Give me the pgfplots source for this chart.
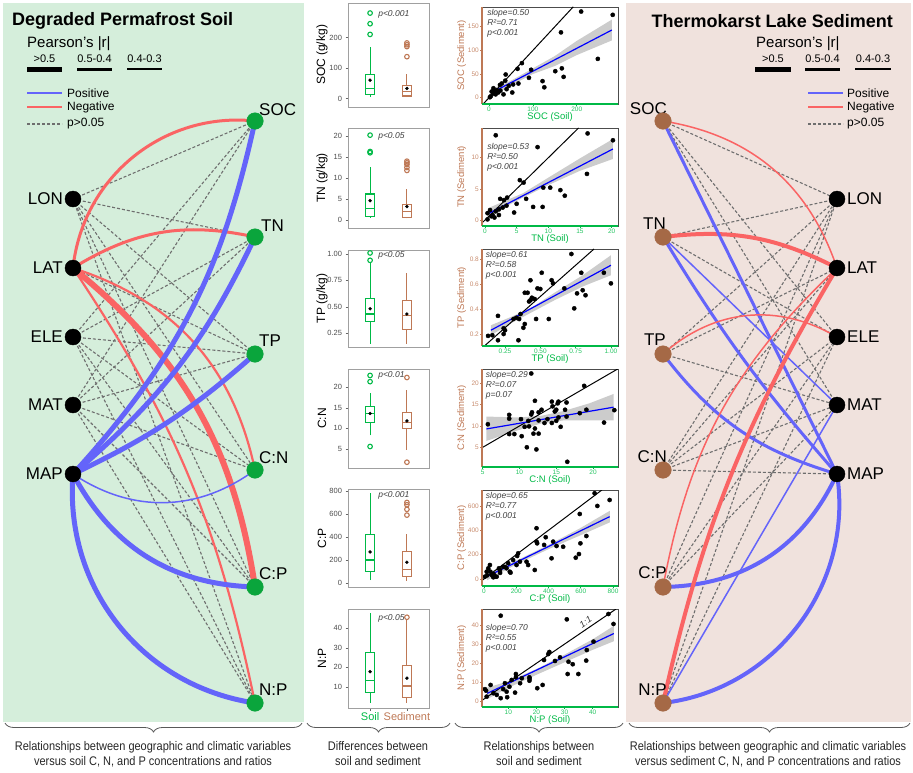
\documentclass[border=0pt]{standalone}
\usepackage{fontspec}
\setmainfont{Liberation Sans}
\newfontfamily\narrowfont[FakeStretch=0.88]{Liberation Sans}
\usepackage{pgfplots}
\pgfplotsset{compat=1.18}
\usetikzlibrary{decorations.pathreplacing}

\definecolor{bgG}{RGB}{213,238,219}
\definecolor{bgP}{RGB}{240,226,221}
\definecolor{eBlue}{RGB}{100,100,250}
\definecolor{eRed}{RGB}{250,100,100}
\definecolor{eGrey}{RGB}{110,110,110}
\definecolor{nGreen}{RGB}{10,165,60}
\definecolor{nBrown}{RGB}{165,105,70}
\definecolor{bxG}{RGB}{0,185,70}
\definecolor{bxB}{RGB}{190,120,85}
\definecolor{boxframe}{RGB}{160,160,160}

\tikzset{
  pval/.style={anchor=west, font=\itshape\fontsize{8.5}{9}\selectfont, text=black!75, inner sep=1pt},
  stats/.style={anchor=north west, align=left, font=\itshape\fontsize{8.5}{10}\selectfont, text=black!75, inner sep=1pt},
}
\pgfplotsset{
  boxax/.style={scale only axis, width=81pt, xmin=0.4, xmax=2.6, xtick=\empty,
    axis line style={draw=boxframe, line width=0.8pt}, tick pos=left, tick align=outside,
    major tick length=2.5pt, y tick style={draw=black!60},
    yticklabel style={font=\fontsize{7.5}{8}\selectfont, text=black!70},
    every axis y label/.style={at={(axis description cs:-0.32,0.5)}, rotate=90, anchor=center, font=\fontsize{12}{12}\selectfont},
    /pgf/number format/assume math mode=true, clip=false},
  outl/.style={only marks, mark=o, mark size=2.3pt, line width=1.1pt},
  meanpt/.style={only marks, mark=*, mark size=1.5pt, black},
  scax/.style={scale only axis, width=136pt, axis line style={draw=black!70, line width=0.9pt},
    tick pos=left, tick align=outside, major tick length=2pt,
    x tick style={draw=bxG, line width=0.6pt}, y tick style={draw=bxB, line width=0.6pt},
    xticklabel style={font=\fontsize{6.5}{7}\selectfont, text=bxG!85, inner sep=1pt},
    yticklabel style={font=\fontsize{6.5}{7}\selectfont, text=bxB!85, inner sep=1pt},
    every axis x label/.style={at={(axis description cs:0.5,-0.135)}, anchor=center, font=\fontsize{9.5}{10}\selectfont, text=bxG},
    every axis y label/.style={at={(axis description cs:-0.15,0.5)}, rotate=90, anchor=center, font=\fontsize{9.5}{10}\selectfont, text=bxB},
    /pgf/number format/assume math mode=true,
    extra description/.code={\draw[bxB, line width=1.3pt] (0,0)--(0,1); \draw[bxG, line width=1.3pt] (0,0)--(1,0);}},
  band/.style={fill=black!20, draw=none},
  oneone/.style={black, line width=1pt},
  pts/.style={only marks, mark=*, mark size=2.1pt, black},
  reg/.style={blue, line width=1.2pt},
}
% box: #1 left x, #2 centre x, #3 right x, #4 lower whisker, #5 Q1, #6 median, #7 Q3, #8 upper whisker, #9 colour
\newcommand{\mybox}[9]{%
  \addplot[#9, line width=1.1pt, line join=miter] coordinates {(#1,#5) (#3,#5) (#3,#7) (#1,#7) (#1,#5)};
  \addplot[#9, line width=1.1pt] coordinates {(#1,#6) (#3,#6)};
  \addplot[#9, line width=1.1pt] coordinates {(#2,#4) (#2,#5)};
  \addplot[#9, line width=1.1pt] coordinates {(#2,#7) (#2,#8)};
}

\begin{document}
\begin{tikzpicture}[x=1pt,y=1pt]
% ================= NETWORK PANELS =================
\begin{axis}[at={(0,0)}, anchor=south west, scale only axis, width=913pt, height=772pt,
  xmin=0, xmax=913, ymin=0, ymax=772, y dir=reverse, hide axis, clip=false]
\fill[bgG] (3,3) rectangle (304,722);
\fill[bgP] (626,3) rectangle (911,722);

% left nodes
\coordinate (lLON) at (73,199); \coordinate (lLAT) at (73,268); \coordinate (lELE) at (73,337);
\coordinate (lMAT) at (73,405); \coordinate (lMAP) at (73,474);
\coordinate (lSOC) at (255,121); \coordinate (lTN) at (255,237); \coordinate (lTP) at (255,354);
\coordinate (lCN) at (255,470); \coordinate (lCP) at (255,587); \coordinate (lNP) at (255,703);
% right nodes
\coordinate (rLON) at (837,199); \coordinate (rLAT) at (837,268); \coordinate (rELE) at (837,337);
\coordinate (rMAT) at (837,405); \coordinate (rMAP) at (837,474);
\coordinate (rSOC) at (663,121); \coordinate (rTN) at (663,237); \coordinate (rTP) at (663,354);
\coordinate (rCN) at (663,470); \coordinate (rCP) at (663,587); \coordinate (rNP) at (663,703);

% dashed (p>0.05), left
\begin{scope}[eGrey, line width=1.1pt, dash pattern=on 3pt off 2pt]
\draw (lLON)--(lSOC); \draw (lLON)--(lTN); \draw (lLON)--(lTP); \draw (lLON)--(lCN); \draw (lLON)--(lCP); \draw (lLON)--(lNP);
\draw (lLAT)--(lTP);
\draw (lELE)--(lSOC); \draw (lELE)--(lTN); \draw (lELE)--(lTP); \draw (lELE)--(lCN); \draw (lELE)--(lCP); \draw (lELE)--(lNP);
\draw (lMAT)--(lSOC); \draw (lMAT)--(lTN); \draw (lMAT)--(lTP); \draw (lMAT)--(lCN); \draw (lMAT)--(lCP); \draw (lMAT)--(lNP);
% right
\draw (rSOC)--(rLON); \draw (rSOC)--(rELE); \draw (rSOC)--(rMAT);
\draw (rTN)--(rLON); \draw (rTN)--(rELE);
\draw (rTP)--(rLON); \draw (rTP)--(rLAT); \draw (rTP)--(rMAT);
\draw (rCN)--(rLON); \draw (rCN)--(rLAT); \draw (rCN)--(rELE); \draw (rCN)--(rMAT); \draw (rCN)--(rMAP);
\draw (rCP)--(rLON); \draw (rCP)--(rELE); \draw (rCP)--(rMAT);
\draw (rNP)--(rLON); \draw (rNP)--(rELE);
\end{scope}

% significant edges, left
\draw[eRed, line width=3pt] (lLAT) to[bend left=45] (lSOC);
\draw[eRed, line width=3pt] (lLAT) to[bend left=22] (lTN);
\draw[eRed, line width=2.2pt] (lLAT) to[bend left=30] (lCN);
\draw[eRed, line width=6pt] (lLAT) to[bend left=21] (lCP);
\draw[eRed, line width=2.2pt] (lLAT) to[bend left=11] (lNP);
\draw[eBlue, line width=5pt] (lMAP) to[bend right=15] (lSOC);
\draw[eBlue, line width=5pt] (lMAP) to[bend right=12] (lTN);
\draw[eBlue, line width=5pt] (lMAP) to[bend right=8] (lTP);
\draw[eBlue, line width=1.5pt] (lMAP) to[bend right=35] (lCN);
\draw[eBlue, line width=5pt] (lMAP) to[bend right=30] (lCP);
\draw[eBlue, line width=5pt] (lMAP) to[bend right=43] (lNP);
% right
\draw[eRed, line width=1.5pt] (rSOC) to[bend left=31] (rLAT);
\draw[eRed, line width=4pt] (rTN) to[bend left=17] (rLAT);
\draw[eBlue, line width=3pt] (rSOC) -- (rMAP);
\draw[eBlue, line width=1.5pt] (rTN) -- (rMAT);
\draw[eBlue, line width=3pt] (rTN) to[bend right=5] (rMAP);
\draw[eRed, line width=1.5pt] (rTP) to[bend left=36] (rELE);
\draw[eBlue, line width=3pt] (rTP) to[bend right=18] (rMAP);
\draw[eBlue, line width=4pt] (rCP) to[bend right=32] (rMAP);
\draw[eBlue, line width=4pt] (rNP) to[bend right=46] (rMAP);
\draw[eRed, line width=4pt] (rNP) to[bend left=9] (rLAT);
\draw[eRed, line width=1.5pt] (rCP) to[bend left=18] (rLAT);
\draw[eBlue, line width=1.5pt] (rNP) -- (rMAT);

% nodes
\addplot[only marks, mark=*, mark size=8pt, black] coordinates {(73,199) (73,268) (73,337) (73,405) (73,474) (837,199) (837,268) (837,337) (837,405) (837,474)};
\addplot[only marks, mark=*, mark size=8.3pt, nGreen] coordinates {(255,121) (255,237) (255,354) (255,470) (255,587) (255,703)};
\addplot[only marks, mark=*, mark size=8.3pt, nBrown] coordinates {(663,121) (663,237) (663,354) (663,470) (663,587) (663,703)};

% node labels
\begin{scope}[every node/.style={font=\fontsize{17}{17}\selectfont, inner sep=0pt}]
\node[anchor=east] at (63,199) {LON}; \node[anchor=east] at (63,268) {LAT};
\node[anchor=east] at (63,337) {ELE}; \node[anchor=east] at (63,405) {MAT};
\node[anchor=east] at (63,474) {MAP};
\node[anchor=west] at (259,110) {SOC}; \node[anchor=west] at (261,226) {TN};
\node[anchor=west] at (259,341) {TP}; \node[anchor=west] at (259,458) {C:N};
\node[anchor=west] at (259,574) {C:P}; \node[anchor=west] at (259,690) {N:P};
\node[anchor=west] at (847,199) {LON}; \node[anchor=west] at (847,268) {LAT};
\node[anchor=west] at (847,337) {ELE}; \node[anchor=west] at (847,405) {MAT};
\node[anchor=west] at (847,474) {MAP};
\node[anchor=east] at (667,109) {SOC}; \node[anchor=east] at (666,224) {TN};
\node[anchor=east] at (666,340) {TP}; \node[anchor=east] at (667,457) {C:N};
\node[anchor=east] at (667,573) {C:P}; \node[anchor=east] at (667,690) {N:P};
\end{scope}

% titles
\node[anchor=west, font=\bfseries\fontsize{18}{18}\selectfont, inner sep=0pt] at (12,21) {Degraded Permafrost Soil};
\node[anchor=east, font=\bfseries\fontsize{18}{18}\selectfont, inner sep=0pt] at (893,21) {Thermokarst Lake Sediment};

% legends
\node[anchor=west, font=\fontsize{15}{15}\selectfont, inner sep=0pt] at (27,44) {Pearson's |r|};
\node[anchor=west, font=\fontsize{15}{15}\selectfont, inner sep=0pt] at (756,44) {Pearson's |r|};
\begin{scope}[every node/.style={font=\fontsize{11}{11}\selectfont, inner sep=0pt}]
\draw[line width=5pt] (27,69)--(62,69); \node at (44.5,59) {>0.5};
\draw[line width=3pt] (77,69)--(112,69); \node at (94.5,59) {0.5-0.4};
\draw[line width=2pt] (127,69)--(162,69); \node at (144.5,59) {0.4-0.3};
\draw[line width=5pt] (755,69)--(791,69); \node at (773,59) {>0.5};
\draw[line width=3pt] (805,69)--(840,69); \node at (822.5,59) {0.5-0.4};
\draw[line width=2pt] (855,69)--(891,69); \node at (873,59) {0.4-0.3};
\end{scope}
\begin{scope}[every node/.style={font=\fontsize{12}{12}\selectfont, inner sep=0pt, anchor=west}]
\draw[eBlue, line width=2.5pt] (27,93)--(62,93); \node at (67,93) {Positive};
\draw[eRed, line width=2.5pt] (27,107)--(62,107); \node at (67,107) {Negative};
\draw[eGrey, line width=1.1pt, dash pattern=on 3pt off 2pt] (27,124)--(62,124); \node at (67,124) {p>0.05};
\draw[eBlue, line width=2.5pt] (808,93)--(843,93); \node at (847,93) {Positive};
\draw[eRed, line width=2.5pt] (808,107)--(843,107); \node at (847,107) {Negative};
\draw[eGrey, line width=1.1pt, dash pattern=on 3pt off 2pt] (808,124)--(843,124); \node at (847,124) {p>0.05};
\end{scope}

% braces and captions
\begin{scope}[black!65, line width=0.8pt, decoration={brace, mirror, amplitude=9pt}]
\draw[decorate] (5,723) -- (302,723);
\draw[decorate] (307,723) -- (450,723);
\draw[decorate] (455,723) -- (623,723);
\draw[decorate] (629,723) -- (910,723);
\end{scope}
\begin{scope}[every node/.style={align=center, anchor=north, font=\narrowfont\fontsize{12.5}{15}\selectfont, text=black!85, inner sep=0pt}]
\node at (153,741) {Relationships between geographic and climatic variables\\versus soil C, N, and P concentrations and ratios};
\node at (378,741) {Differences between\\soil and sediment};
\node at (539,741) {Relationships between\\soil and sediment};
\node at (768,741) {Relationships between geographic and climatic variables\\versus sediment C, N, and P concentrations and ratios};
\end{scope}
\end{axis}

% ================= BOXPLOTS =================
% SOC
\begin{axis}[boxax, at={(348pt,665pt)}, anchor=south west, height=104pt, ymin=-28, ymax=313, ytick={0,100,200}, ylabel={SOC (g/kg)}]
\mybox{0.875}{1}{1.125}{5}{13}{32}{80}{170}{bxG}
\mybox{1.875}{2}{2.125}{4}{8}{22}{42}{80}{bxB}
\addplot[outl, bxG] coordinates {(1,210) (1,245) (1,280)};
\addplot[outl, bxB] coordinates {(2,137) (2,170) (2,176) (2,182)};
\addplot[meanpt] coordinates {(1,60) (2,33)};
\node[pval] at (axis cs:1.19,277) {p<0.001};
\end{axis}
% TN
\begin{axis}[boxax, at={(348pt,544pt)}, anchor=south west, height=100pt, ymin=-1.9, ymax=21.9, ytick={0,5,10,15,20}, ylabel={TN (g/kg)}]
\mybox{0.875}{1}{1.125}{0.5}{0.9}{2.8}{6.2}{12.5}{bxG}
\mybox{1.875}{2}{2.125}{0.4}{0.6}{2.0}{3.6}{7.3}{bxB}
\addplot[outl, bxG] coordinates {(1,16.0) (1,16.3) (1,20.2)};
\addplot[outl, bxB] coordinates {(2,11.8) (2,12.5) (2,13.2) (2,13.6) (2,14.0)};
\addplot[meanpt] coordinates {(1,4.6) (2,3.2)};
\node[pval] at (axis cs:1.19,20) {p<0.05};
\end{axis}
% TP
\begin{axis}[boxax, at={(348pt,425pt)}, anchor=south west, height=97pt, ymin=0.117, ymax=1.038, ytick={0.25,0.5,0.75,1}, yticklabels={0.25,0.50,0.75,1.00}, ylabel={TP (g/kg)}]
\mybox{0.875}{1}{1.125}{0.15}{0.36}{0.43}{0.58}{0.92}{bxG}
\mybox{1.875}{2}{2.125}{0.15}{0.28}{0.42}{0.56}{0.82}{bxB}
\addplot[outl, bxG] coordinates {(1,0.94) (1,1.01)};
\addplot[meanpt] coordinates {(1,0.48) (2,0.43)};
\node[pval] at (axis cs:1.19,0.99) {p<0.05};
\end{axis}
% C:N
\begin{axis}[boxax, at={(348pt,304pt)}, anchor=south west, height=99pt, ymin=0.4, ymax=24.36, ytick={5,10,15,20}, ylabel={C:N}]
\mybox{0.875}{1}{1.125}{8.3}{11.5}{13.6}{15.3}{18.5}{bxG}
\mybox{1.875}{2}{2.125}{4.8}{10}{11.5}{13.8}{19.3}{bxB}
\addplot[outl, bxG] coordinates {(1,5.6) (1,21.3) (1,22.8)};
\addplot[outl, bxB] coordinates {(2,1.8) (2,22.3)};
\addplot[meanpt] coordinates {(1,13.6) (2,11.8)};
\node[pval] at (axis cs:1.19,22.7) {p<0.01};
\end{axis}
% C:P
\begin{axis}[boxax, at={(348pt,185pt)}, anchor=south west, height=98pt, ymin=-35, ymax=817, ytick={0,200,400,600,800}, ylabel={C:P}]
\mybox{0.875}{1}{1.125}{25}{100}{200}{420}{780}{bxG}
\mybox{1.875}{2}{2.125}{20}{60}{120}{270}{430}{bxB}
\addplot[outl, bxB] coordinates {(2,590) (2,640) (2,680) (2,700)};
\addplot[meanpt] coordinates {(1,270) (2,180)};
\node[pval] at (axis cs:1.19,765) {p<0.001};
\end{axis}
% N:P
\begin{axis}[boxax, at={(348pt,64pt)}, anchor=south west, height=99pt, ymin=-0.7, ymax=49.7, ytick={10,20,30,40}, ylabel={N:P},
  xtick={1,2}, xticklabels={{\color{bxG}Soil},{\color{bxB}Sediment}}, xticklabel style={font=\fontsize{11}{11}\selectfont, inner sep=2pt}, x tick style={draw=black!60}]
\mybox{0.875}{1}{1.125}{2}{7}{13.5}{27.5}{47.5}{bxG}
\mybox{1.875}{2}{2.125}{2}{4.5}{10.5}{21}{44}{bxB}
\addplot[outl, bxB] coordinates {(2,45.5)};
\addplot[meanpt] coordinates {(1,17.8) (2,14.5)};
\node[pval] at (axis cs:1.19,45) {p<0.05};
\end{axis}

% ================= SCATTERS =================
% SOC
\begin{axis}[scax, at={(482pt,668pt)}, anchor=south west, height=97pt, xmin=-16, xmax=294, ymin=-13.3, ymax=191.6,
  xtick={0,100,200}, ytick={0,50,100,150}, xlabel={SOC (Soil)}, ylabel={SOC (Sediment)}]
\addplot[band] coordinates {(5,18) (50,36) (100,62) (150,88) (200,120) (280,165) (280,121) (200,90) (150,67) (100,50) (50,26) (5,2)} -- cycle;
\addplot[oneone] coordinates {(-13,-13) (192,192)};
\addplot[pts] table {
x y
210 182
282 175
164 138
248 82
75 73
65 61
38 49
91 42
96 59
151 56
166 62
170 44
122 35
126 22
53 11
33 7
37 36
25 27
29 30
67 30
10 20
6 13
18 16
21 11
15 7
4 3
10 9
40 18
26 15
2 1
12 14
45 25
55 28
};
\addplot[reg] coordinates {(5,10) (280,143)};
\node[stats] at (rel axis cs:0.03,0.99) {slope=0.50\\R²=0.71\\p<0.001};
\end{axis}
% TN
\begin{axis}[scax, at={(482pt,546pt)}, anchor=south west, height=98pt, xmin=-0.47, xmax=21.0, ymin=-0.96, ymax=14.77,
  xtick={0,5,10,15,20}, ytick={0,5,10}, xlabel={TN (Soil)}, ylabel={TN (Sediment)}]
\addplot[band] coordinates {(0.5,1.9) (3,3.0) (6,4.3) (10,6.8) (15,9.9) (20.2,13.0) (20.2,9.8) (15,7.9) (10,5.6) (6,3.6) (3,2.0) (0.5,0.2)} -- cycle;
\addplot[oneone] coordinates {(-0.96,-0.96) (14.77,14.77)};
\addplot[pts] table {
x y
1.7 13.6
16.2 13.9
20.2 12.8
8.3 11.7
16.1 7.4
5.5 6.4
6.1 6.0
9.2 5.2
10.3 5.2
11.9 4.8
12.6 3.9
7.6 2.1
9.1 2.1
2.4 3.4
3.0 3.2
3.5 3.6
5.0 2.6
6.5 3.4
4.6 1.2
2.2 0.8
0.8 1.6
0.4 1.1
1.0 0.6
1.5 0.4
0.4 0.1
1.7 1.4
2.8 2.0
3.4 2.3
2.2 1.7
1.2 0.8
};
\addplot[reg] coordinates {(0.5,1.0) (20.2,11.4)};
\node[stats] at (rel axis cs:0.03,0.86) {slope=0.53\\R²=0.50\\p<0.001};
\end{axis}
% TP
\begin{axis}[scax, at={(482pt,426pt)}, anchor=south west, height=97pt, xmin=0.087, xmax=1.05, ymin=0.104, ymax=0.88,
  xtick={0.25,0.5,0.75,1}, xticklabels={0.25,0.50,0.75,1.00}, ytick={0.2,0.4,0.6,0.8}, yticklabels={0.2,0.4,0.6,0.8}, xlabel={TP (Soil)}, ylabel={TP (Sediment)}]
\addplot[band] coordinates {(0.15,0.27) (0.3,0.34) (0.45,0.42) (0.6,0.53) (0.8,0.67) (1.0,0.83) (1.0,0.67) (0.8,0.58) (0.6,0.47) (0.45,0.38) (0.3,0.29) (0.15,0.19)} -- cycle;
\addplot[oneone] coordinates {(0.104,0.104) (0.88,0.88)};
\addplot[pts] table {
x y
0.72 0.84
1.00 0.605
0.95 0.69
0.79 0.69
0.51 0.69
0.43 0.63
0.58 0.63
0.59 0.605
0.67 0.565
0.39 0.53
0.41 0.53
0.48 0.565
0.50 0.56
0.44 0.49
0.42 0.46
0.76 0.525
0.80 0.55
0.82 0.51
0.74 0.405
0.47 0.32
0.56 0.32
0.36 0.36
0.35 0.32
0.38 0.25
0.39 0.28
0.33 0.33
0.20 0.345
0.24 0.245
0.25 0.23
0.24 0.20
0.20 0.15
0.13 0.185
0.16 0.19
0.345 0.15
0.43 0.47
0.46 0.48
0.31 0.32
};
\addplot[reg] coordinates {(0.15,0.23) (1.0,0.75)};
\node[stats] at (rel axis cs:0.02,0.99) {slope=0.61\\R²=0.58\\p<0.001};
\end{axis}
% C:N
\begin{axis}[scax, at={(482pt,305pt)}, anchor=south west, height=98pt, xmin=4.9, xmax=23.4, ymin=0.38, ymax=23.35,
  xtick={5,10,15,20}, ytick={5,10,15,20}, xlabel={C:N (Soil)}, ylabel={C:N (Sediment)}]
\addplot[band] coordinates {(5.5,12.2) (10,12.0) (13,12.4) (16,13.5) (19.5,15.3) (22.8,17.5) (22.8,11.3) (19.5,11.3) (16,11.3) (13,10.6) (10,9.1) (5.5,6.5)} -- cycle;
\addplot[oneone] coordinates {(4.9,4.9) (23.35,23.35)};
\addplot[pts] table {
x y
11.6 22.3
22.9 13.7
18.8 19.4
5.7 10.4
21.5 10.8
19.1 13.8
18.2 13.0
8.6 12.6
8.6 11.7
8.6 8.1
9.3 8.1
10.3 7.6
11.0 5.0
12.3 4.5
16.5 1.6
10.7 9.8
11.3 9.9
11.6 12.7
11.7 13.2
12.1 15.9
13.0 13.8
13.8 11.6
14.4 15.7
15.0 13.8
15.2 15.3
15.3 15.7
16.4 15.5
16.2 13.8
16.4 12.2
15.3 12.0
15.0 11.2
15.6 9.8
14.4 10.7
13.4 10.7
12.6 11.3
12.1 9.4
11.9 8.2
12.6 8.2
11.2 11.2
10.2 11.6
12.6 13.2
14.5 14.6
14.8 13.4
};
\addplot[reg] coordinates {(5.5,9.3) (22.8,14.4)};
\node[stats] at (rel axis cs:0.02,0.99) {slope=0.29\\R²=0.07\\p=0.07};
\end{axis}
% C:P
\begin{axis}[scax, at={(482pt,186pt)}, anchor=south west, height=96pt, xmin=-12, xmax=831, ymin=-57.5, ymax=731,
  xtick={0,200,400,600,800}, ytick={0,200,400,600}, xlabel={C:P (Soil)}, ylabel={C:P (Sediment)}]
\addplot[band] coordinates {(20,50) (200,150) (400,280) (600,420) (780,560) (780,465) (600,360) (400,245) (200,120) (20,-10)} -- cycle;
\addplot[oneone] coordinates {(-12,-12) (731,731)};
\addplot[pts] table {
x y
686 704
779 649
703 600
594 534
326 417
383 343
330 293
326 307
373 280
429 307
450 271
491 265
598 293
635 353
419 170
589 205
569 175
315 74
212 211
206 189
181 156
223 142
202 115
264 142
274 115
165 52
119 101
140 88
99 74
79 19
58 14
27 88
37 115
17 60
48 33
6 19
93 88
20 30
40 60
60 40
70 20
100 50
130 100
150 130
160 60
};
\addplot[reg] coordinates {(17,19) (779,512)};
\node[stats] at (rel axis cs:0.02,0.99) {slope=0.65\\R²=0.77\\p<0.001};
\end{axis}
% N:P
\begin{axis}[scax, at={(482pt,65pt)}, anchor=south west, height=98pt, xmin=0.65, xmax=49, ymin=-2.8, ymax=48.3,
  xtick={10,20,30,40}, ytick={0,10,20,30,40}, xlabel={N:P (Soil)}, ylabel={N:P (Sediment)}]
\addplot[band] coordinates {(2.5,7.3) (10,10.6) (20,17.0) (30,24.5) (40,32.5) (47.5,39.5) (47.5,31.5) (40,27.0) (30,20.5) (20,14.0) (10,7.2) (2.5,1.3)} -- cycle;
\addplot[oneone] coordinates {(0.65,0.65) (48.3,48.3)};
\addplot[pts] table {
x y
7.3 44.8
30.8 42.9
45.6 45.7
47.4 40.5
40.3 31.3
37.9 26.9
31.4 20.8
32.9 19.5
37.7 21.4
31.1 14.4
34.9 14.4
24.2 24.8
24.6 25.9
22.7 21.7
26.6 21.2
28.4 23.1
20.3 7.0
22.2 8.7
17.5 12.7
17.5 10.9
17.6 12.0
12.7 14.4
12.7 12.7
14.2 9.6
12.4 4.7
9.6 2.3
7.3 1.8
9.4 5.2
8.2 6.5
10.4 7.8
3.7 8.7
2.1 5.7
4.7 4.4
2.3 2.6
5.9 3.5
1.7 6.5
8.8 9.6
11.2 11.3
14.8 12.2
};
\addplot[reg] coordinates {(2.5,4.3) (47.5,35.5)};
\node[font=\itshape\fontsize{9}{9}\selectfont, text=black!80, rotate=34, inner sep=0pt] at (axis cs:37.5,41.5) {1:1};
\node[stats] at (rel axis cs:0.02,0.86) {slope=0.70\\R²=0.55\\p<0.001};
\end{axis}

\pgfresetboundingbox
\useasboundingbox (0,0) rectangle (913,772);
\end{tikzpicture}
\end{document}
